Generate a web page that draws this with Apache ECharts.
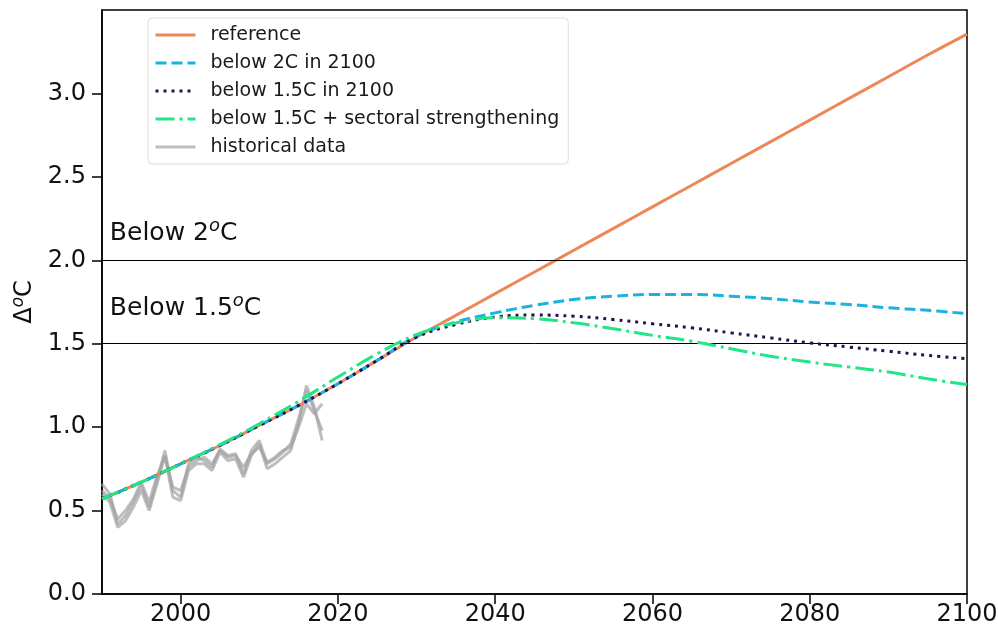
<!DOCTYPE html>
<html>
<head>
<meta charset="utf-8">
<script src="https://cdn.jsdelivr.net/npm/echarts@6/dist/echarts.min.js"></script>
<style>html,body{margin:0;padding:0;background:#fff}#c{width:998px;height:635px}</style>
</head>
<body>
<div id="c"></div>
<script>
const years = [1990,1995,2000,2005,2010,2015,2020,2025,2030,2035,2040,2045,2050,2055,2060,2065,2070,2075,2080,2085,2090,2095,2100];
const reference = [0.57,0.67,0.78,0.89,1.01,1.13,1.26,1.40,1.54,1.67,1.80,1.93,2.06,2.19,2.32,2.45,2.58,2.71,2.84,2.97,3.10,3.23,3.355];
const below2C = [0.57,0.67,0.78,0.89,1.01,1.13,1.26,1.40,1.545,1.63,1.685,1.73,1.765,1.785,1.795,1.795,1.785,1.77,1.75,1.735,1.715,1.70,1.68];
const below15C = [0.57,0.67,0.78,0.89,1.01,1.13,1.26,1.40,1.54,1.615,1.66,1.672,1.665,1.645,1.62,1.595,1.565,1.535,1.505,1.48,1.455,1.43,1.41];
const sectoral = [0.57,0.67,0.78,0.895,1.02,1.155,1.30,1.44,1.555,1.625,1.655,1.65,1.625,1.59,1.55,1.515,1.47,1.425,1.39,1.36,1.33,1.29,1.255];

const histYears = [1990,1991,1992,1993,1994,1995,1996,1997,1998,1999,2000,2001,2002,2003,2004,2005,2006,2007,2008,2009,2010,2011,2012,2013,2014,2015,2016,2017,2018];
const hist1 = [0.66,0.60,0.42,0.47,0.55,0.65,0.52,0.68,0.86,0.62,0.58,0.78,0.82,0.80,0.76,0.87,0.83,0.84,0.72,0.86,0.92,0.78,0.81,0.85,0.90,1.05,1.22,1.10,0.98];
const hist2 = [0.62,0.57,0.45,0.50,0.57,0.67,0.55,0.71,0.82,0.64,0.62,0.76,0.80,0.82,0.78,0.86,0.82,0.83,0.76,0.84,0.88,0.79,0.82,0.86,0.88,1.00,1.14,1.08,1.14];
const hist3 = [0.60,0.55,0.40,0.44,0.52,0.62,0.50,0.66,0.83,0.58,0.56,0.74,0.78,0.78,0.74,0.85,0.80,0.81,0.70,0.83,0.90,0.75,0.78,0.82,0.86,1.02,1.25,1.12,0.92];

const xTicks = [2000,2020,2040,2060,2080,2100];
const yTicks = [0,0.5,1.0,1.5,2.0,2.5,3.0];
const thresholds = [2.0, 1.5];
const annotations = [[1991, 2.07, 'Below 2'], [1991, 1.62, 'Below 1.5']];

const names = ['reference','below 2C in 2100','below 1.5C in 2100','below 1.5C + sectoral strengthening','historical data'];

const pair = (xs, ys) => xs.map((x, i) => [x, ys[i]]);
const FONT = 'DejaVu Sans';

const histStyle = (d) => ({
  name: names[4], type: 'line', data: pair(histYears, d), symbol: 'none', z: 1,
  lineStyle: {color: '#a3a3a3', width: 3, opacity: 0.7}, itemStyle: {color: '#bdbdbd'}
});

const chart = echarts.init(document.getElementById('c'), null, {renderer: 'canvas'});
chart.setOption({
  animation: false,
  backgroundColor: '#fff',
  grid: {left: 102, right: 31, top: 10, bottom: 41, outerBoundsMode: 'none', containLabel: false,
         show: true, borderColor: '#000', borderWidth: 1.5, backgroundColor: 'transparent'},
  legend: {
    data: names, orient: 'vertical', left: 148, top: 18,
    padding: [6, 9, 6, 6], itemGap: 6, itemWidth: 40, itemHeight: 14,
    backgroundColor: '#fff', borderColor: '#dcdcdc', borderWidth: 1, borderRadius: 4,
    itemStyle: {opacity: 0, borderWidth: 0},
    lineStyle: {width: 3},
    textStyle: {fontFamily: FONT, fontSize: 19, color: '#1a1a1a', lineHeight: 22, padding: [0, 0, 0, 10]}
  },
  xAxis: {
    type: 'value', min: 1990, max: 2100,
    axisLine: {show: true, lineStyle: {color: '#000', width: 1.5}},
    axisTick: {show: true, length: 10, lineStyle: {color: '#000', width: 1.5}, customValues: xTicks},
    axisLabel: {fontFamily: FONT, fontSize: 24, color: '#111', margin: 9, customValues: xTicks, formatter: v => String(v)},
    splitLine: {show: false}
  },
  yAxis: {
    type: 'value', min: 0, max: 3.5,
    name: '{n|Δ}{sup|o}{n|C}', nameLocation: 'middle', nameGap: 58, nameRotate: 90,
    nameTextStyle: {fontFamily: FONT, fontSize: 24, color: '#111', rich: {
      n: {fontFamily: FONT, fontSize: 24, color: '#111', lineHeight: 30},
      sup: {fontFamily: FONT, fontSize: 17, fontStyle: 'italic', color: '#111', lineHeight: 17, verticalAlign: 'top'}}},
    axisLine: {show: true, lineStyle: {color: '#000', width: 1.5}},
    axisTick: {show: true, length: 10, lineStyle: {color: '#000', width: 1.5}, customValues: yTicks},
    axisLabel: {fontFamily: FONT, fontSize: 24, color: '#111', margin: 16, customValues: yTicks, formatter: v => v.toFixed(1)},
    splitLine: {show: false}
  },
  series: [
    histStyle(hist1), histStyle(hist2), histStyle(hist3),
    {name: names[0], type: 'line', data: pair(years, reference), symbol: 'none', smooth: 0.4, z: 3,
     lineStyle: {color: '#EE8757', width: 3}, itemStyle: {color: '#EE8757'}},
    {name: names[1], type: 'line', data: pair(years, below2C), symbol: 'none', smooth: 0.4, z: 4,
     lineStyle: {color: '#1BB2E2', width: 3, type: [11, 5]}, itemStyle: {color: '#1BB2E2'}},
    {name: names[2], type: 'line', data: pair(years, below15C), symbol: 'none', smooth: 0.4, z: 5,
     lineStyle: {color: '#2A0E4E', width: 3, type: [3, 5]}, itemStyle: {color: '#2A0E4E'}},
    {name: names[3], type: 'line', data: pair(years, sectoral), symbol: 'none', smooth: 0.4, z: 6,
     lineStyle: {color: '#22E584', width: 3, type: [19, 5, 3, 5]}, itemStyle: {color: '#22E584'}},
    {name: 'annot', type: 'scatter', data: annotations, symbolSize: 0, silent: true, z: 7,
     itemStyle: {color: '#000', opacity: 1},
     label: {show: true, position: [0, 0], align: 'left', verticalAlign: 'bottom', opacity: 1,
       fontFamily: FONT, fontSize: 25, color: '#111',
       formatter: p => '{n|' + p.data[2] + '}{sup|o}{n|C}',
       rich: {
         n: {fontFamily: FONT, fontSize: 25, color: '#111', lineHeight: 31, verticalAlign: 'middle'},
         sup: {fontFamily: FONT, fontSize: 18, fontStyle: 'italic', color: '#111', lineHeight: 18, verticalAlign: 'top'}}},
     emphasis: {disabled: true},
     markLine: {silent: true, symbol: ['none', 'none'], label: {show: false},
       lineStyle: {color: '#000', width: 1, type: 'solid', opacity: 1},
       data: thresholds.map(v => ({yAxis: v}))}}
  ]
});
</script>
</body>
</html>
